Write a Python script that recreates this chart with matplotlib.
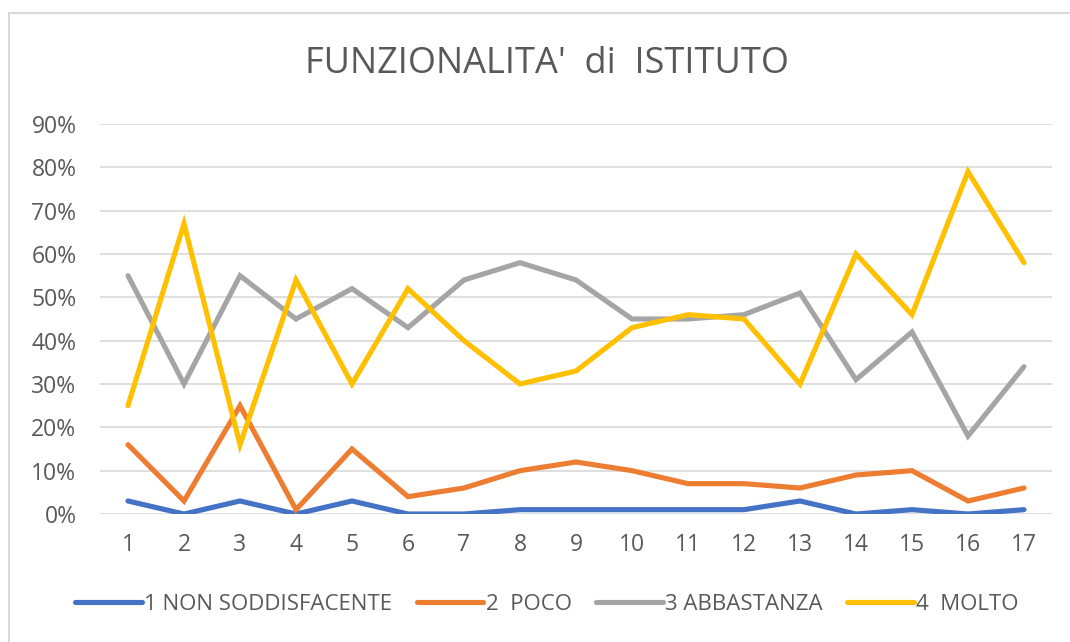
import matplotlib.pyplot as plt
from matplotlib.patches import Rectangle
from matplotlib.ticker import PercentFormatter

# Survey answers per question (share of respondents)
questions = list(range(1, 18))
non_soddisfacente = [0.03, 0.00, 0.03, 0.00, 0.03, 0.00, 0.00, 0.01, 0.01, 0.01, 0.01, 0.01, 0.03, 0.00, 0.01, 0.00, 0.01]
poco = [0.16, 0.03, 0.25, 0.01, 0.15, 0.04, 0.06, 0.10, 0.12, 0.10, 0.07, 0.07, 0.06, 0.09, 0.10, 0.03, 0.06]
abbastanza = [0.55, 0.30, 0.55, 0.45, 0.52, 0.43, 0.54, 0.58, 0.54, 0.45, 0.45, 0.46, 0.51, 0.31, 0.42, 0.18, 0.34]
molto = [0.25, 0.67, 0.16, 0.54, 0.30, 0.52, 0.40, 0.30, 0.33, 0.43, 0.46, 0.45, 0.30, 0.60, 0.46, 0.79, 0.58]

series = [
    ("1 NON SODDISFACENTE", non_soddisfacente, "#4472C4"),
    ("2  POCO", poco, "#ED7D31"),
    ("3 ABBASTANZA", abbastanza, "#A5A5A5"),
    ("4  MOLTO", molto, "#FFC000"),
]

text_color = "#595959"
plt.rcParams["font.family"] = ["Open Sans", "DejaVu Sans"]

fig = plt.figure(figsize=(10.7, 6.42), dpi=100)
ax = fig.add_axes([100 / 1070, 1 - 514 / 642, 952 / 1070, 390 / 642])

# chart frame
fig.patches.append(Rectangle((9 / 1070, -0.05), 1.1, 1.05 - 13 / 642,
                             transform=fig.transFigure, fill=False,
                             edgecolor="#D9D9D9", linewidth=1.5))

for label, values, color in series:
    ax.plot(questions, values, color=color, linewidth=3.7, label=label,
            solid_joinstyle="miter", solid_capstyle="round")

ax.set_xlim(0.5, 17.5)
ax.set_ylim(0, 0.9)
ax.set_yticks([i / 10 for i in range(10)])
ax.set_xticks(questions)
ax.yaxis.set_major_formatter(PercentFormatter(1.0, decimals=0))
ax.grid(axis="y", color="#D9D9D9", linewidth=1.2)
ax.set_axisbelow(True)
for side in ["top", "right", "left", "bottom"]:
    ax.spines[side].set_visible(False)
ax.tick_params(length=0, labelsize=16.5, labelcolor=text_color)
ax.tick_params(axis="y", pad=17)
ax.tick_params(axis="x", pad=14)

fig.text(547 / 1070, 1 - 64 / 642, "FUNZIONALITA'  di  ISTITUTO",
         ha="center", va="center", fontsize=26, color=text_color)

leg = fig.legend(loc="center", bbox_to_anchor=(547 / 1070, 1 - 604 / 642),
                 ncol=4, frameon=False, fontsize=16, handlelength=3.0,
                 handletextpad=0.1, columnspacing=1.1)
for text in leg.get_texts():
    text.set_color(text_color)

fig.savefig("out.png", dpi=100, facecolor="white")
